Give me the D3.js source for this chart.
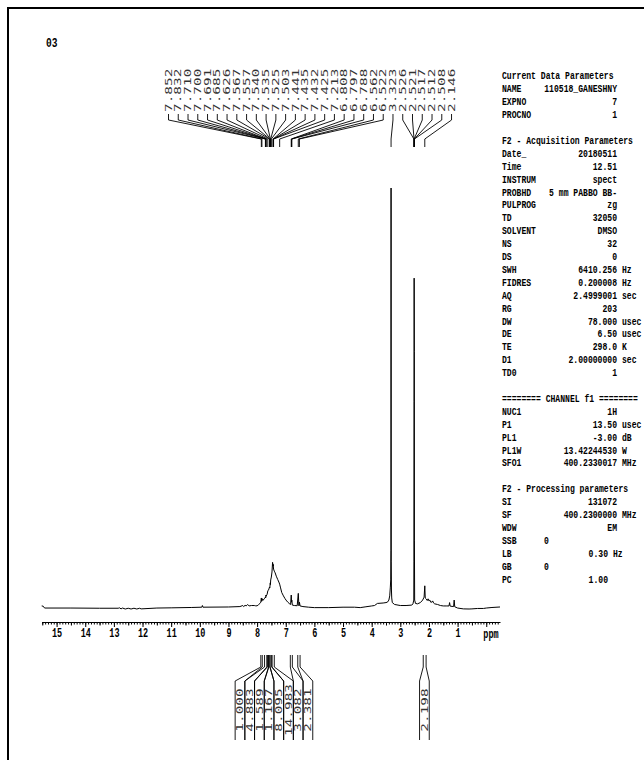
<!DOCTYPE html>
<html><head><meta charset="utf-8">
<script src="https://cdn.jsdelivr.net/npm/d3@7"></script>
<style>body{margin:0;background:#fff}</style>
</head><body>
<svg id="c" width="644" height="760"></svg>
<script>
// 1H NMR spectrum of sample 03 (DMSO, 400 MHz)
const spectrumPpm = [15.52,15.47,15.42,14.5,13.5,12.85,12.8,12.75,12.7,12.6,12.5,12.4,12.3,12.2,12.1,12.05,11.5,11.0,10.3,9.93,9.91,9.89,9.0,8.6,8.5,8.47,8.42,8.38,8.33,8.28,8.2,8.1,8.05,
  8.0,7.95,7.9,7.87,7.852,7.842,7.832,7.80,7.75,7.71,7.70,7.691,7.685,7.65,7.626,7.60,7.567,7.557,7.540,7.535,7.525,7.503,7.48,7.46,7.441,7.435,7.432,7.425,7.40,7.37,7.33,7.28,7.24,7.213,7.18,7.14,7.08,7.03,6.99,6.93,6.88,6.85,
  6.83,6.808,6.797,6.788,6.77,6.7,6.6,6.562,6.54,6.522,6.50,6.4,6.2,6.0,5.5,5.0,4.6,4.4,4.2,4.0,3.9,3.8,3.6,3.5,3.45,3.4,3.37,3.35,3.335,3.328,3.323,3.318,3.31,3.30,3.28,3.2,3.0,2.8,
  2.6,2.56,2.53,2.526,2.521,2.517,2.512,2.508,2.50,2.47,2.4,2.3,2.22,2.17,2.146,2.13,2.1,2.06,2.03,2.0,1.97,1.94,1.9,1.87,1.84,1.8,1.7,1.6,1.5,1.4,1.3,1.28,1.26,1.14,1.12,1.10,1.0,0.8,0.6,0.5,0.3,0.1,0.0,-0.2,-0.48];
const spectrumInt = [0.3,0.25,-0.2,-0.2,-0.25,-0.25,-0.15,-0.4,-0.2,-0.43,-0.25,-0.43,-0.25,-0.43,-0.25,-0.4,-0.2,-0.15,-0.07,0,0.4,0,0.05,0.15,0.4,0.15,0.45,0.3,0.65,0.3,0.4,0.4,0.33,
  0.33,0.6,0.9,1.2,2.2,1.4,2.1,1.6,2.0,2.4,2.2,2.9,2.6,3.1,3.9,4.1,4.8,4.6,5.8,5.4,6.5,7.2,8.4,10.7,9.8,10.2,9.6,9.1,8.6,8.2,7.4,6.6,6.0,5.5,4.6,3.5,2.7,2.1,1.7,1.2,0.9,0.7,
  0.65,2.9,1.2,1.7,0.5,0.4,0.35,3.3,0.33,1.2,0.3,0.15,0,-0.1,-0.1,0,0,-0.1,0.1,0.3,0.4,0.9,1.0,1.1,1.2,1.7,2.7,4.6,6.5,13.6,100,11,4.1,2.2,1.1,0.65,0.4,0.4,
  0.5,0.8,1.7,11,49,78.5,61,16,1.7,0.9,0.8,1.1,1.7,2.4,5.1,2.2,2.0,1.6,2.0,1.5,1.7,1.2,1.2,1.5,1.0,0.8,0.65,0.4,0.3,0.3,0.3,1.1,0.25,0.15,1.7,0.1,-0.2,-0.4,-0.43,-0.4,-0.3,-0.3,-0.2,-0.07,0.05];

const peakLabels = [7.852,7.832,7.710,7.700,7.691,7.685,7.626,7.567,7.557,7.540,7.535,7.525,7.503,7.441,7.435,7.432,7.425,7.213,6.808,6.797,6.788,6.562,6.522,3.323,2.526,2.521,2.517,2.512,2.508,2.146];

const integralValues = [1.000,4.883,1.589,1.167,8.095,14.983,3.082,2.381,2.198];
const integralFrom   = [7.87,7.74,7.64,7.59,7.55,7.48,6.84,6.58,2.20];
const integralTo     = [7.82,7.66,7.60,7.55,7.49,7.40,6.77,6.50,2.10];

const axisLabels = [15,14,13,12,11,10,9,8,7,6,5,4,3,2,1];

const paramLabels = ["Current Data Parameters","NAME","EXPNO","PROCNO",null,
  "F2 - Acquisition Parameters","Date_","Time","INSTRUM","PROBHD","PULPROG","TD","SOLVENT","NS","DS","SWH","FIDRES","AQ","RG","DW","DE","TE","D1","TD0",null,
  "======== CHANNEL f1 ========","NUC1","P1","PL1","PL1W","SFO1",null,
  "F2 - Processing parameters","SI","SF","WDW","SSB","LB","GB","PC"];
const paramValues = ["","110518_GANESHNY","7","1",null,
  "","20180511","12.51","spect","5 mm PABBO BB-","zg","32050","DMSO","32","0","6410.256","0.200008","2.4999001","203","78.000","6.50","298.0","2.00000000","1",null,
  "","1H","13.50","-3.00","13.42244530","400.2330017",null,
  "","131072","400.2300000","EM","0","0.30","0","1.00"];
const paramUnits = ["","","","",null,
  "","","","","","","","","","","Hz","Hz","sec","","usec","usec","K","sec","",null,
  "","","usec","dB","W","MHz",null,
  "","","MHz","","","Hz","",""];

const svg = d3.select("#c");
const monoBold = "'Liberation Mono','DejaVu Sans Mono',monospace";
const monoThin = "'DejaVu Sans Mono','Liberation Mono',monospace";

// page frame
svg.append("path").attr("d","M8,760V8H644").attr("fill","none").attr("stroke","#000").attr("stroke-width",2);

// sample title
svg.append("text").attr("transform","translate(46,47) scale(0.8,1)")
  .attr("font-family",monoBold).attr("font-weight","bold").attr("font-size",12).text("03");

const x = d3.scaleLinear().domain([15.52,-0.48]).range([41.7,500]);
const y = d3.scaleLinear().domain([0,100]).range([607.2,188]);

// spectrum trace
const pts = spectrumPpm.map((p,i)=>[p,spectrumInt[i]]);
svg.append("path").datum(pts)
  .attr("d", d3.line().x(d=>x(d[0])).y(d=>y(d[1])))
  .attr("fill","none").attr("stroke","#000").attr("stroke-width",1);

// ppm axis: minor, half and whole ticks
const axisY = 622;
const minor = d3.range(-4,156).map(v=>v/10);
const half = d3.range(0,16).map(v=>v+0.5).filter(v=>v<15.52);
const gMinor = svg.append("g").attr("transform",`translate(0,${axisY})`)
  .call(d3.axisBottom(x).tickValues(minor).tickSize(2.5).tickSizeOuter(0).tickFormat(""));
svg.append("g").attr("transform",`translate(0,${axisY})`)
  .call(d3.axisBottom(x).tickValues(half).tickSize(3.5).tickFormat("")).select(".domain").remove();
const gMajor = svg.append("g").attr("transform",`translate(0,${axisY})`)
  .call(d3.axisBottom(x).tickValues(axisLabels.concat([0])).tickSize(5).tickFormat(d=>d===0?"":d3.format("d")(d)));
gMajor.select(".domain").remove();
svg.selectAll(".tick line,.domain").attr("stroke","#000").attr("stroke-width",1);
gMajor.selectAll("text").attr("font-family",monoBold).attr("font-weight","bold")
  .attr("font-size",12.5).attr("fill","#000").attr("transform","scale(0.68,1)").attr("y",6);
svg.append("text").attr("transform",`translate(491,${axisY+16.3}) scale(0.68,1)`)
  .attr("text-anchor","middle").attr("font-family",monoBold).attr("font-weight","bold")
  .attr("font-size",12.5).text("ppm");

// peak pick labels with leader lines
const labelStep = 9.76, labelX0 = 168.5;
const gPeaks = svg.append("g");
peakLabels.forEach((p,i)=>{
  const lx = labelX0 + i*labelStep, px = x(p);
  gPeaks.append("text")
    .attr("transform",`translate(${lx},112) rotate(-90) scale(1.6,1)`)
    .attr("dy","0.35em").attr("font-family",monoThin).attr("font-size",9).attr("fill","#333")
    .text(p.toFixed(3));
  gPeaks.append("path")
    .attr("d",`M${lx},114V120L${px},139V147`)
    .attr("fill","none").attr("stroke","#000").attr("stroke-width",0.9);
});

// integral brackets and values
const colStep = 9.7, colX0 = 240;
const gInt = svg.append("g");
integralValues.forEach((v,i)=>{
  const cx = i < 8 ? colX0 + i*colStep : 424.4;
  const xa = x(integralFrom[i]), xb = x(integralTo[i]);
  const l = cx - 4.85, r = cx + 4.85;
  gInt.append("path")
    .attr("d",`M${xa},655V667L${l},681V740M${xb},655V667L${r},681V740`)
    .attr("fill","none").attr("stroke","#000").attr("stroke-width",0.9);
  gInt.append("text")
    .attr("transform",`translate(${cx},710) rotate(-90) scale(1.6,1)`)
    .attr("dy","0.35em").attr("text-anchor","middle")
    .attr("font-family",monoThin).attr("font-size",9).attr("fill","#333")
    .text(v.toFixed(3));
});

// acquisition / processing parameter panel
const sx = 0.81, px0 = 502, rowY0 = 79.5, rowStep = 12.9;
const gPar = svg.append("g").attr("transform",`translate(${px0},0) scale(${sx},1)`)
  .attr("font-family",monoBold).attr("font-weight","bold").attr("font-size",10).attr("fill","#000");
const lx = X => (X - px0)/sx;
paramLabels.forEach((lab,i)=>{
  if (lab === null) return;
  const yy = rowY0 + i*rowStep;
  gPar.append("text").attr("x",0).attr("y",yy).text(lab);
  const val = paramValues[i], unit = paramUnits[i];
  if (!val) return;
  if (lab === "SSB" || lab === "GB") {
    gPar.append("text").attr("x",lx(544)).attr("y",yy).text(val);
    return;
  }
  const right = (lab === "LB" || lab === "PC") ? 608 : 617;
  gPar.append("text").attr("x",lx(right)).attr("y",yy).attr("text-anchor","end").text(val);
  if (unit) gPar.append("text").attr("x",lx(right+5)).attr("y",yy).text(unit);
});
</script>
</body></html>
